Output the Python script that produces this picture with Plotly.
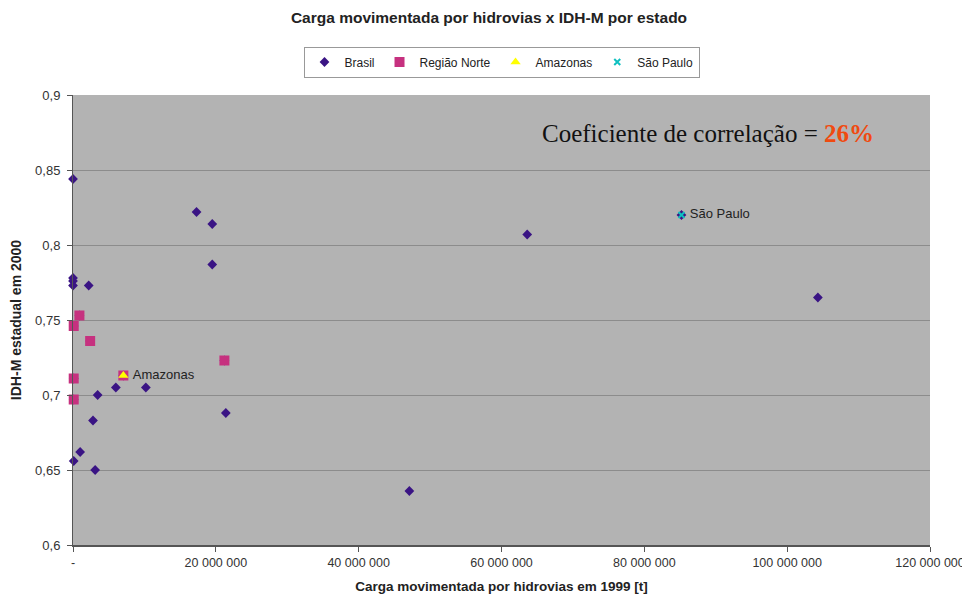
import plotly.graph_objects as go

# Brasil (all states) - carga [t], IDH-M
brasil_x = [0, 0, 0, 0, 2.2e6, 17.3e6, 19.5e6, 19.5e6, 3.45e6, 6.0e6, 10.2e6,
            2.8e6, 1.0e6, 0.1e6, 3.1e6, 21.4e6, 47.1e6, 63.6e6, 104.3e6, 85.2e6,
            0.9e6, 0.1e6, 2.4e6, 0.1e6, 0.1e6, 21.2e6, 7.05e6]
brasil_y = [0.844, 0.778, 0.776, 0.773, 0.773, 0.822, 0.814, 0.787, 0.700, 0.705, 0.705,
            0.683, 0.662, 0.656, 0.650, 0.688, 0.636, 0.807, 0.765, 0.820,
            0.753, 0.746, 0.736, 0.711, 0.697, 0.723, 0.713]

norte_x = [0.9e6, 0.1e6, 2.4e6, 0.1e6, 0.1e6, 21.2e6, 7.05e6]
norte_y = [0.753, 0.746, 0.736, 0.711, 0.697, 0.723, 0.713]

amazonas_x = [7.05e6]
amazonas_y = [0.713]

sp_x = [85.2e6]
sp_y = [0.820]

x_ticks = [0, 20e6, 40e6, 60e6, 80e6, 100e6, 120e6]
x_ticktext = ["-", "20 000 000", "40 000 000", "60 000 000", "80 000 000", "100 000 000", "120 000 000"]
y_ticks = [0.6, 0.65, 0.7, 0.75, 0.8, 0.85, 0.9]
y_ticktext = ["0,6", "0,65", "0,7", "0,75", "0,8", "0,85", "0,9"]

FONT = "Liberation Sans, Arial"

# page body has an 8px margin: work in figure coords = screen coords - 8
OFF = 8
W, H = 970 - OFF, 594 - OFF
L, T = 73 - OFF, 95 - OFF
R = W - (930 - OFF)
B = H - (545 - OFF)
pw, ph = W - L - R, H - T - B


def px_x(sx):
    return (sx - OFF - L) / pw


def px_y(sy):
    return 1 - (sy - OFF - T) / ph


fig = go.Figure()
fig.add_trace(go.Scatter(x=brasil_x, y=brasil_y, mode="markers", name="Brasil", cliponaxis=False,
                         marker=dict(symbol="diamond", size=7.5, color="#3a1484")))
fig.add_trace(go.Scatter(x=norte_x, y=norte_y, mode="markers", name="Região Norte", cliponaxis=False,
                         marker=dict(symbol="square", size=10, color="#c6317f")))
fig.add_trace(go.Scatter(x=amazonas_x, y=amazonas_y, mode="markers+text", name="Amazonas",
                         cliponaxis=False,
                         text=[" Amazonas"], textposition="middle right",
                         textfont=dict(family=FONT, size=13, color="#222"),
                         marker=dict(symbol="triangle-up", size=9, color="#ffff00")))
fig.add_trace(go.Scatter(x=sp_x, y=sp_y, mode="markers+text", name="São Paulo", cliponaxis=False,
                         text=[" São Paulo"], textposition="middle right",
                         textfont=dict(family=FONT, size=13, color="#222"),
                         marker=dict(symbol="x-thin", size=6, color="#10c0c0",
                                     line=dict(width=2, color="#10c0c0"))))

fig.add_annotation(x=px_x(876), y=px_y(133), xref="paper", yref="paper",
                   xanchor="right", yanchor="middle", showarrow=False,
                   text="Coeficiente de correlação = <b><span style='color:#f04a10'>26%</span></b>",
                   font=dict(family="Liberation Serif, Times New Roman", size=25, color="#111"))

fig.update_layout(
    width=W, height=H,
    margin=dict(l=L, r=R, t=T, b=B, autoexpand=False),
    paper_bgcolor="white", plot_bgcolor="#b3b3b3",
    title=dict(text="<b>Carga movimentada por hidrovias x IDH-M por estado</b>",
               x=0.5, xanchor="center", y=1 - (18 - OFF) / H, yanchor="middle",
               font=dict(family=FONT, size=15.5, color="#222")),
    legend=dict(orientation="h", x=0.5, xanchor="center", y=px_y(62), yanchor="middle",
                bordercolor="#999", borderwidth=1, bgcolor="white",
                font=dict(family=FONT, size=12, color="#222"),
                itemwidth=30, tracegroupgap=0),
    showlegend=True,
    font=dict(family=FONT, size=12, color="#333"),
)
fig.update_xaxes(range=[0, 120e6], tickvals=x_ticks, ticktext=x_ticktext, automargin=False,
                 showgrid=False, zeroline=False, showline=True, linecolor="#555", linewidth=2,
                 ticks="outside", ticklen=5, tickcolor="#555",
                 tickfont=dict(family=FONT, size=12.5, color="#333"),
                 title=dict(text="<b>Carga movimentada por hidrovias em 1999 [t]</b>",
                            font=dict(family=FONT, size=13.5, color="#222"),
                            standoff=15))
fig.update_yaxes(range=[0.6, 0.9], tickvals=y_ticks, ticktext=y_ticktext, automargin=False,
                 showgrid=True, gridcolor="#8c8c8c", gridwidth=1, zeroline=False,
                 showline=True, linecolor="#555", linewidth=1,
                 ticks="outside", ticklen=5, tickcolor="#555", ticklabelstandoff=4,
                 tickfont=dict(family=FONT, size=13, color="#333"),
                 title=dict(text="<b>IDH-M estadual em 2000</b>",
                            font=dict(family=FONT, size=14, color="#222"),
                            standoff=20))

fig.write_html("out.html")
